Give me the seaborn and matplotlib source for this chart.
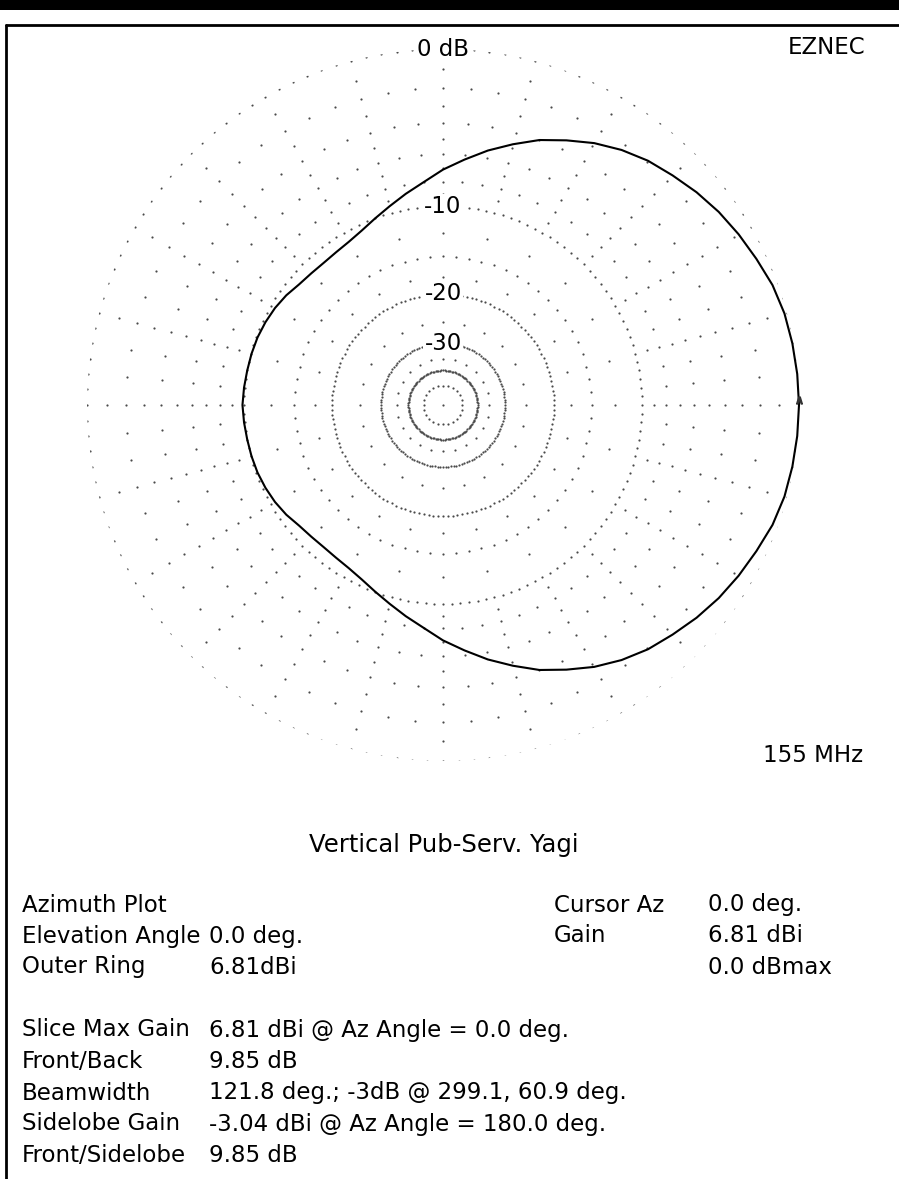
import numpy as np
import matplotlib
matplotlib.use("Agg")
import matplotlib.pyplot as plt
from matplotlib.lines import Line2D
from matplotlib.patches import Rectangle
import seaborn as sns

sns.set_style("white")
plt.rcParams["font.family"] = ["DejaVu Sans"]
plt.rcParams["text.color"] = "black"

# azimuth pattern, dB below max (0 dB = 6.81 dBi), every 5 deg
az_deg = list(range(0, 360, 5))
gain_db = [0.0, -0.02, -0.06, -0.12, -0.26, -0.50, -0.72, -0.96, -1.25, -1.58,
           -1.89, -2.30, -2.80, -3.40, -4.00, -4.75, -5.50, -6.32, -7.10, -7.98,
           -8.70, -9.40, -10.02, -10.56, -10.92, -11.10, -11.18, -11.12, -10.98, -10.66,
           -10.42, -10.25, -10.12, -10.05, -10.00, -9.92, -9.85,
           -9.92, -10.00, -10.05, -10.12, -10.25, -10.42, -10.66, -10.98, -11.12,
           -11.18, -11.10, -10.92, -10.56, -10.02, -9.40, -8.70, -7.98, -7.10, -6.32,
           -5.50, -4.75, -4.00, -3.40, -2.80, -2.30, -1.89, -1.58, -1.25, -0.96,
           -0.72, -0.50, -0.26, -0.12, -0.06, -0.02]

# grid rings (dB) and the angular step of their dots
fine_rings = [0, -10, -20, -30, -40]          # dots every 2.5 deg
mid_rings = [-2, -4, -6, -8, -15]             # every 5 deg
coarse_rings = [-1, -3, -5, -7, -9, -12.5, -17.5, -25, -35, -50]  # every 15 deg
ring_label_levels = [0, -10, -20, -30]
ring_labels = ["0 dB", "-10", "-20", "-30"]

left_names = ["Azimuth Plot", "Elevation Angle", "Outer Ring", "",
              "Slice Max Gain", "Front/Back", "Beamwidth", "Sidelobe Gain", "Front/Sidelobe"]
left_vals = ["", "0.0 deg.", "6.81dBi", "",
             "6.81 dBi @ Az Angle = 0.0 deg.", "9.85 dB",
             "121.8 deg.; -3dB @ 299.1, 60.9 deg.",
             "-3.04 dBi @ Az Angle = 180.0 deg.", "9.85 dB"]
right_names = ["Cursor Az", "Gain", ""]
right_vals = ["0.0 deg.", "6.81 dBi", "0.0 dBmax"]

W, H = 899, 1179
fig = plt.figure(figsize=(W / 100, H / 100), dpi=100)

cx, cy, R = 443, 405, 356
ax = fig.add_axes([(cx - R) / W, (H - cy - R) / H, 2 * R / W, 2 * R / H],
                  projection="polar")

# dotted grid
g_th, g_r = [], []
for rings, step in [(fine_rings, 2.5), (mid_rings, 5), (coarse_rings, 15)]:
    for lev in rings:
        a = np.deg2rad(np.arange(0, 360, step))
        g_th.extend(a)
        g_r.extend([lev] * len(a))
g_th.append(0.0)
g_r.append(-200)
sns.scatterplot(x=g_th, y=g_r, ax=ax, s=2.5, color="#4a4a4a", linewidth=0,
                legend=False, zorder=1)

# pattern
th = np.deg2rad(az_deg + [360])
gv = gain_db + [gain_db[0]]
sns.lineplot(x=th, y=gv, ax=ax, sort=False, estimator=None, color="black",
             linewidth=1.5, zorder=3)
for ln in ax.lines:
    ln.set_clip_on(False)

# ARRL log-periodic radial scale
K = np.log(0.89)
ax.set_rscale("function",
              functions=(lambda d: np.exp(-np.asarray(d) * K / 2),
                         lambda x: -2 * np.log(np.maximum(x, 1e-300)) / K))
ax.set_rlim(-200, 0)
ax.set_xticks([])
ax.set_yticks([])
ax.grid(False)
ax.spines["polar"].set_visible(False)
ax.set_xlabel("")
ax.set_ylabel("")
ax.patch.set_alpha(0)

for lev, lab in zip(ring_label_levels, ring_labels):
    ax.text(np.pi / 2, lev, lab, ha="center", va="center", fontsize=16.5,
            bbox=dict(fc="white", ec="none", pad=0.6), zorder=4)

# cursor mark at 0 deg
ax.plot([np.deg2rad(0.8)], [0.0], marker=r"$\wedge$", markersize=5, color="#333",
        clip_on=False, zorder=4)

def fy(y):
    return 1 - y / H

fig.text(865 / W, fy(47), "EZNEC", ha="right", va="center", fontsize=16.5)
fig.text(863 / W, fy(755), "155 MHz", ha="right", va="center", fontsize=16.5)
fig.text(444 / W, fy(845), "Vertical Pub-Serv. Yagi", ha="center", va="center",
         fontsize=17.5)

row_y = [905, 936, 967, 998, 1030, 1062, 1093, 1124, 1155]
for y, n, v in zip(row_y, left_names, left_vals):
    fig.text(22 / W, fy(y), n, ha="left", va="center", fontsize=16.5)
    fig.text(209 / W, fy(y), v, ha="left", va="center", fontsize=16.5)
for y, n, v in zip(row_y[:3], right_names, right_vals):
    fig.text(554 / W, fy(y), n, ha="left", va="center", fontsize=16.5)
    fig.text(708 / W, fy(y), v, ha="left", va="center", fontsize=16.5)

# frame
fig.add_artist(Rectangle((0, fy(10)), 1, 10 / H, transform=fig.transFigure,
                         color="black", lw=0))
fig.add_artist(Line2D([6 / W, 1], [fy(25), fy(25)], transform=fig.transFigure,
                      color="black", lw=2))
fig.add_artist(Line2D([6 / W, 6 / W], [0, fy(25)], transform=fig.transFigure,
                      color="black", lw=2))

fig.savefig("out.png", dpi=100, facecolor="white")
